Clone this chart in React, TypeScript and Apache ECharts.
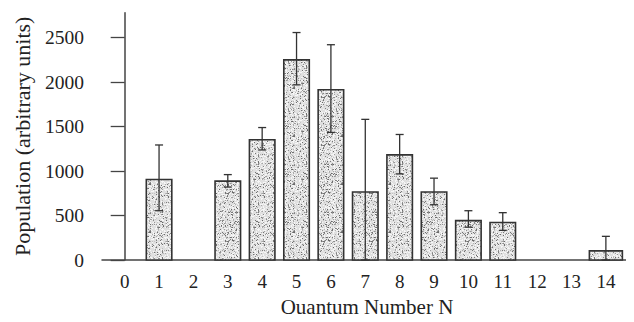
import React, { useEffect, useRef } from "react";
import * as echarts from "echarts";

const quantumNumbers = [0, 1, 2, 3, 4, 5, 6, 7, 8, 9, 10, 11, 12, 13, 14];
const population = [null, 905, null, 887, 1352, 2250, 1914, 765, 1182, 765, 443, 421, null, null, 103];
const errorHigh = [null, 1293, null, 960, 1489, 2557, 2420, 1581, 1411, 920, 554, 532, null, null, 266];
const errorLow = [null, 554, null, 820, 1237, 1969, 1434, 0, 968, 621, 369, 333, null, null, 0];
const yTicks = [0, 500, 1000, 1500, 2000, 2500];

const FONT = "'Liberation Serif', 'DejaVu Serif', serif";

function makeStipple(): HTMLCanvasElement {
  const c = document.createElement("canvas");
  c.width = 48;
  c.height = 48;
  const ctx = c.getContext("2d")!;
  ctx.fillStyle = "#e0e0e0";
  ctx.fillRect(0, 0, 48, 48);
  let s = 12345;
  const next = () => {
    s = (s * 1103515245 + 12345) & 0x7fffffff;
    return s / 0x7fffffff;
  };
  for (let i = 0; i < 700; i++) {
    const x = Math.floor(next() * 48);
    const y = Math.floor(next() * 48);
    const g = Math.floor(100 + next() * 100);
    ctx.fillStyle = `rgb(${g},${g},${g})`;
    ctx.fillRect(x, y, 1, 1);
  }
  for (let i = 0; i < 600; i++) {
    const x = Math.floor(next() * 48);
    const y = Math.floor(next() * 48);
    ctx.fillStyle = "#f6f6f6";
    ctx.fillRect(x, y, 1, 1);
  }
  return c;
}

export default function App() {
  const ref = useRef<HTMLDivElement>(null);
  useEffect(() => {
    if (!ref.current) return;
    const chart = echarts.init(ref.current, null, { renderer: "svg" });
    const stipple = makeStipple();
    const barData = quantumNumbers
      .map((n, i) => (population[i] == null ? null : [n, population[i]]))
      .filter((d) => d != null);
    const errData = quantumNumbers
      .map((n, i) => (errorHigh[i] == null ? null : [n, errorLow[i], errorHigh[i]]))
      .filter((d) => d != null);

    chart.setOption({
      animation: false,
      backgroundColor: "#ffffff",
      grid: { left: 102, right: 2, top: 12.7, bottom: 58.7, containLabel: false },
      xAxis: {
        type: "value",
        min: -0.66,
        max: 14.76,
        name: "Quantum Number N",
        nameLocation: "middle",
        nameGap: 36,
        nameTextStyle: { fontFamily: FONT, fontSize: 21, color: "#222" },
        axisLine: { show: true, lineStyle: { color: "#444", width: 1.5 } },
        axisTick: { show: false },
        splitLine: { show: false },
        axisLabel: {
          customValues: quantumNumbers,
          fontFamily: FONT,
          fontSize: 19,
          color: "#222",
          margin: 12,
          formatter: (v: number) => String(v),
        },
      },
      yAxis: {
        type: "value",
        min: 0,
        max: 2780,
        name: "Population (arbitrary units)",
        nameLocation: "middle",
        nameGap: 69,
        nameTextStyle: { fontFamily: FONT, fontSize: 22, color: "#222" },
        axisLine: { show: true, lineStyle: { color: "#444", width: 1.5 } },
        axisTick: { show: true, customValues: yTicks, inside: false, length: 14, lineStyle: { color: "#444", width: 1.3 } },
        splitLine: { show: false },
        axisLabel: {
          customValues: yTicks,
          fontFamily: FONT,
          fontSize: 19.5,
          color: "#222",
          margin: 18,
          formatter: (v: number) => String(v),
        },
      },
      series: [
        {
          type: "custom",
          data: barData,
          encode: { x: 0, y: 1 },
          renderItem: (params: any, api: any) => {
            const n = api.value(0);
            const v = api.value(1);
            const top = api.coord([n, v]);
            const base = api.coord([n, 0]);
            const w = n === 14 ? 33 : 25.5;
            return {
              type: "rect",
              shape: { x: top[0] - w / 2, y: top[1], width: w, height: base[1] - top[1] },
              style: {
                fill: { image: stipple, repeat: "repeat" },
                stroke: "#333",
                lineWidth: 1.6,
              },
            };
          },
        },
        {
          type: "custom",
          data: errData,
          encode: { x: 0, y: [1, 2] },
          z: 5,
          renderItem: (params: any, api: any) => {
            const n = api.value(0);
            const lo = api.coord([n, api.value(1)]);
            const hi = api.coord([n, api.value(2)]);
            const cap = 4;
            const st = { stroke: "#333", lineWidth: 1.3 };
            return {
              type: "group",
              children: [
                { type: "line", shape: { x1: hi[0], y1: hi[1], x2: lo[0], y2: lo[1] }, style: st },
                { type: "line", shape: { x1: hi[0] - cap, y1: hi[1], x2: hi[0] + cap, y2: hi[1] }, style: st },
                { type: "line", shape: { x1: lo[0] - cap, y1: lo[1], x2: lo[0] + cap, y2: lo[1] }, style: st },
              ],
            };
          },
        },
      ],
    });
    return () => chart.dispose();
  }, []);
  return <div ref={ref} style={{ width: 634, height: 322, margin: -8 }} />;
}
